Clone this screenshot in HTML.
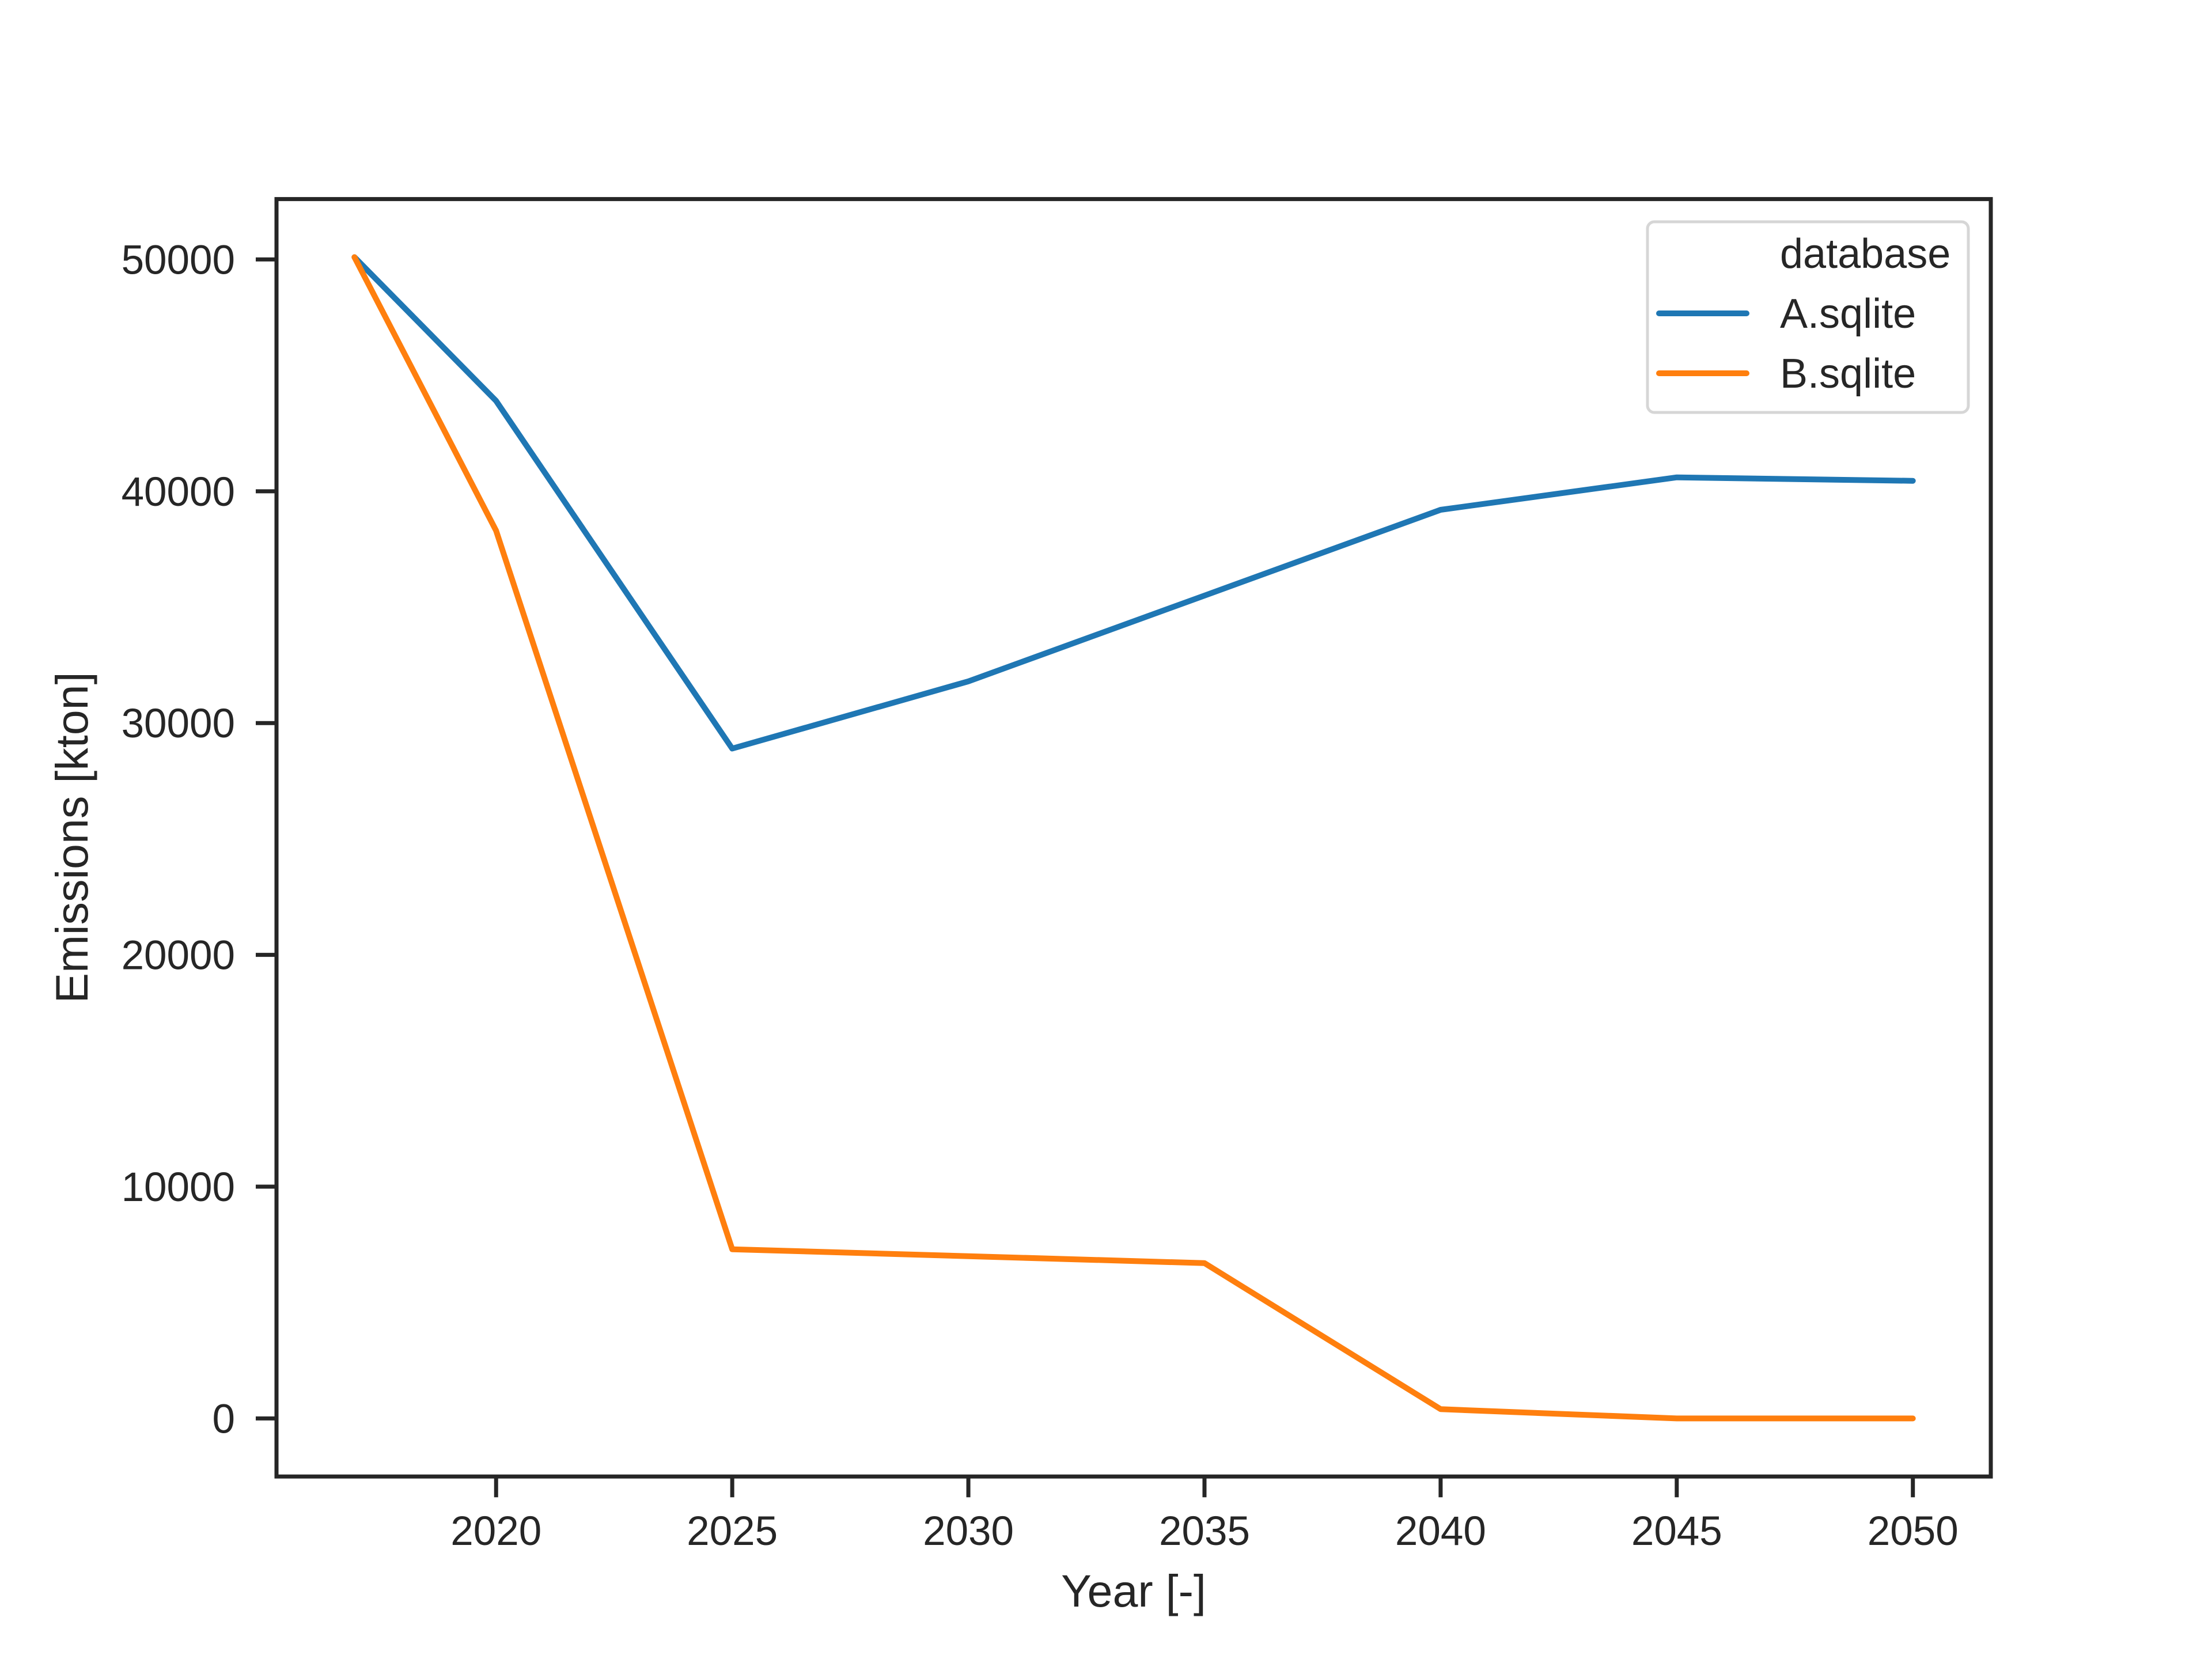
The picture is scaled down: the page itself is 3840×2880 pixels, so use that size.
<!DOCTYPE html>
<html><head><meta charset="utf-8"><style>
html,body{margin:0;padding:0;background:#fff;}
svg{display:block;font-family:"Liberation Sans",Arial,sans-serif;}
</style></head><body>
<svg id="chart" width="3840" height="2880" viewBox="0 0 3840 2880" xmlns="http://www.w3.org/2000/svg">
<rect width="3840" height="2880" fill="#fff"/>
<g id="plot"></g>
<g id="axes"></g>
<text x="1968" y="2789" font-size="79" fill="#262626" text-anchor="middle">Year [-]</text>
<text transform="translate(152,1454) rotate(-90)" font-size="79" fill="#262626" text-anchor="middle">Emissions [kton]</text>
<g>
<rect x="2860" y="385" width="557" height="331" rx="12" fill="#fff" fill-opacity="0.8" stroke="#d6d6d6" stroke-width="5"/>
<text x="3090" y="465" font-size="72" fill="#262626">database</text>
<line x1="2880" y1="544" x2="3032" y2="544" stroke="#1f77b4" stroke-width="10" stroke-linecap="round"/>
<text x="3090" y="569" font-size="72" fill="#262626">A.sqlite</text>
<line x1="2880" y1="648" x2="3032" y2="648" stroke="#ff7f0e" stroke-width="10" stroke-linecap="round"/>
<text x="3090" y="673" font-size="72" fill="#262626">B.sqlite</text>
</g>
</svg>
<script>
const years = [2017, 2020, 2025, 2030, 2035, 2040, 2045, 2050];
const seriesA = [50100, 43900, 28900, 31800, 35500, 39200, 40600, 40450];
const seriesB = [50100, 38300, 7300, 7000, 6700, 400, 0, 0];
const xTicks = [2020, 2025, 2030, 2035, 2040, 2045, 2050];
const yTicks = [0, 10000, 20000, 30000, 40000, 50000];

const NS = "http://www.w3.org/2000/svg";
const L = 480, R = 3456, T = 345.6, B = 2563.2;
const xmin0 = Math.min(...years), xmax0 = Math.max(...years);
const xpad = (xmax0 - xmin0) * 0.05;
const xmin = xmin0 - xpad, xmax = xmax0 + xpad;
const allY = seriesA.concat(seriesB);
const ymin0 = Math.min(...allY), ymax0 = Math.max(...allY);
const ypad = (ymax0 - ymin0) * 0.05;
const ymin = ymin0 - ypad, ymax = ymax0 + ypad;
function xs(v){ return L + (v - xmin) / (xmax - xmin) * (R - L); }
function ys(v){ return B - (v - ymin) / (ymax - ymin) * (B - T); }
function mk(tag, attrs){ const e = document.createElementNS(NS, tag); for (const k in attrs) e.setAttribute(k, attrs[k]); return e; }

const plot = document.getElementById('plot');
const axes = document.getElementById('axes');

function drawLine(vals, color, name){
  const pts = years.map((y, i) => xs(y).toFixed(1) + ',' + ys(vals[i]).toFixed(1)).join(' ');
  const pl = mk('polyline', {points: pts, fill: 'none', stroke: color, 'stroke-width': 10, 'stroke-linejoin': 'round', 'stroke-linecap': 'round'});
  
  
  plot.appendChild(pl);
}
drawLine(seriesA, '#1f77b4', 'line-a-sqlite');
drawLine(seriesB, '#ff7f0e', 'line-b-sqlite');

const frame = mk('rect', {x: L, y: T, width: R - L, height: B - T, fill: 'none', stroke: '#262626', 'stroke-width': 7});


axes.appendChild(frame);

xTicks.forEach(t => {
  const x = xs(t);
  const tk = mk('line', {x1: x, y1: B, x2: x, y2: B + 36, stroke: '#262626', 'stroke-width': 7});
  
  
  axes.appendChild(tk);
  const tx = mk('text', {x: x, y: B + 119, 'font-size': 71, fill: '#262626', 'text-anchor': 'middle'});
  tx.textContent = t;
  
  
  axes.appendChild(tx);
});
yTicks.forEach(t => {
  const y = ys(t);
  const tk = mk('line', {x1: L - 36, y1: y, x2: L, y2: y, stroke: '#262626', 'stroke-width': 7});
  
  
  axes.appendChild(tk);
  const tx = mk('text', {x: L - 72, y: y + 25, 'font-size': 71, fill: '#262626', 'text-anchor': 'end'});
  tx.textContent = t;
  
  
  axes.appendChild(tx);
});
</script>
</body></html>
